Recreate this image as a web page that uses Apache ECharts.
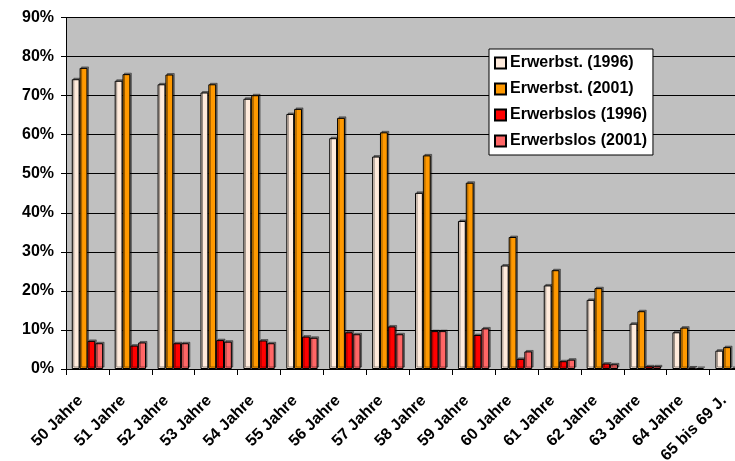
<!DOCTYPE html>
<html>
<head>
<meta charset="utf-8">
<script src="https://cdn.jsdelivr.net/npm/echarts@6/dist/echarts.min.js"></script>
<style>html,body{margin:0;padding:0;background:#fff}#c{width:735px;height:461px}</style>
</head>
<body>
<div id="c"></div>
<script>
var categories = ['50 Jahre','51 Jahre','52 Jahre','53 Jahre','54 Jahre','55 Jahre','56 Jahre','57 Jahre','58 Jahre','59 Jahre','60 Jahre','61 Jahre','62 Jahre','63 Jahre','64 Jahre','65 bis 69 J.'];
var erwerbst1996 = [74.2,73.8,72.9,70.8,69.2,65.3,59.1,54.4,45.1,37.9,26.5,21.4,17.7,11.6,9.4,4.7];
var erwerbst2001 = [77.1,75.5,75.4,72.9,70.1,66.6,64.3,60.6,54.7,47.7,33.8,25.3,20.7,14.8,10.6,5.6];
var erwerbslos1996 = [7.2,6.0,6.6,7.4,7.3,8.3,9.4,10.9,9.7,8.7,2.6,2.0,1.4,0.7,0.4,0.2];
var erwerbslos2001 = [6.6,6.8,6.6,7.0,6.6,8.0,8.9,8.9,9.7,10.4,4.5,2.4,1.2,0.7,0.2,0.1];
var yTicks = [0,10,20,30,40,50,60,70,80,90];
var seriesNames = ['Erwerbst. (1996)','Erwerbst. (2001)','Erwerbslos (1996)','Erwerbslos (2001)'];
var colors = ['#FFEBDC','#FF9900','#FF0000','#FF6666'];

var datas = [erwerbst1996, erwerbst2001, erwerbslos1996, erwerbslos2001];
var chart = echarts.init(document.getElementById('c'), null, {renderer:'canvas'});
var series = datas.map(function(d,i){
  return {
    name: seriesNames[i], type:'bar', data:d,
    barGap:'0%', barCategoryGap:'27%',
    itemStyle:{color:colors[i], borderColor:'#000', borderWidth:1,
      shadowColor:'rgba(0,0,0,0.4)', shadowOffsetX:1.5, shadowOffsetY:-1.5, shadowBlur:0},
    emphasis:{disabled:true}
  };
});
chart.setOption({
  animation:false,
  color:colors,
  grid:{left:66, top:17.5, height:351.5, width:686.5, show:true, backgroundColor:'#C0C0C0', borderWidth:0, containLabel:false, outerBoundsMode:'none'},
  legend:{
    orient:'vertical', left:489, top:49, data:seriesNames,
    backgroundColor:'#fff', borderColor:'#000', borderWidth:1, padding:[6,6,6,5],
    itemWidth:11, itemHeight:11, itemGap:10, icon:'rect',
    textStyle:{fontFamily:'Liberation Sans, Arial', fontWeight:'bold', fontSize:16, color:'#000', padding:[0,0,0,-1], lineHeight:14.5},
    selectedMode:false
  },
  xAxis:{
    type:'category', data:categories,
    axisLine:{show:true, lineStyle:{color:'#000', width:1}},
    axisTick:{show:true, length:6, lineStyle:{color:'#000'}},
    axisLabel:{rotate:45, fontFamily:'Liberation Sans, Arial', fontWeight:'bold', fontSize:16, color:'#000', margin:22, interval:0, padding:[0,10,0,0]},
    splitLine:{show:false}
  },
  yAxis:{
    type:'value', min:0, max:90, interval:10,
    axisLine:{show:true, lineStyle:{color:'#000', width:1}},
    axisTick:{show:true, length:5, lineStyle:{color:'#000'}},
    axisLabel:{formatter:function(v){return yTicks.indexOf(v)>=0 ? v+'%' : '';}, fontFamily:'Liberation Sans, Arial', fontWeight:'bold', fontSize:16, color:'#000', margin:12},
    splitLine:{show:true, lineStyle:{color:'#000', width:1}}
  },
  series:series
});
</script>
</body>
</html>
